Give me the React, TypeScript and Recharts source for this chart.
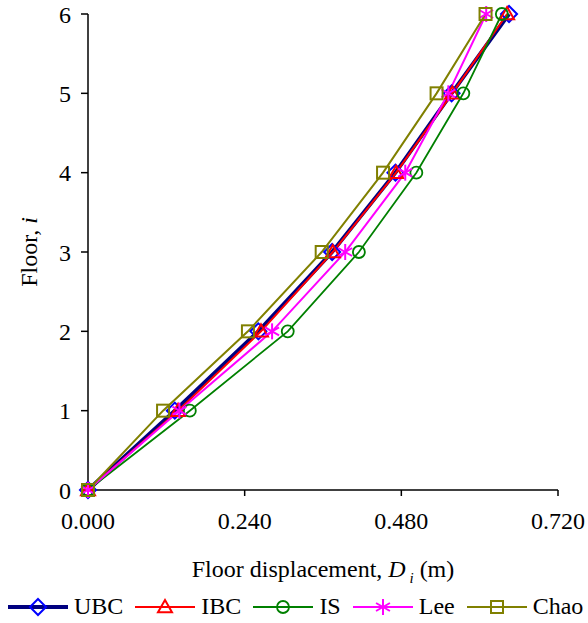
import React from "react";
import { LineChart, Line, XAxis, YAxis, Legend } from "recharts";

// Floor displacement (m) per floor
const floors = [0, 1, 2, 3, 4, 5, 6];
const ubc = [0, 0.133, 0.261, 0.374, 0.471, 0.557, 0.645];
const ibc = [0, 0.138, 0.265, 0.375, 0.472, 0.558, 0.642];
const isCode = [0, 0.156, 0.306, 0.415, 0.503, 0.575, 0.634];
const lee = [0, 0.14, 0.282, 0.394, 0.486, 0.552, 0.61];
const chao = [0, 0.115, 0.245, 0.358, 0.452, 0.534, 0.609];

const xTicks = [0, 0.24, 0.48, 0.72];
const yTicks = [0, 1, 2, 3, 4, 5, 6];

const FONT = '"Liberation Serif", serif';
const textStyle = { fontFamily: FONT, fontSize: 24 };

const chartData = floors.map((f, i) => ({
  floor: f,
  ubc: ubc[i],
  ibc: ibc[i],
  is: isCode[i],
  lee: lee[i],
  chao: chao[i],
}));

type MarkerKind = "diamond" | "triangle" | "circle" | "star" | "square";

function Marker({ kind, cx, cy, color }: { kind: MarkerKind; cx: number; cy: number; color: string }) {
  if (kind === "diamond") {
    const s = 8;
    return (
      <polygon
        points={`${cx},${cy - s} ${cx + s},${cy} ${cx},${cy + s} ${cx - s},${cy}`}
        fill="none"
        stroke={color}
        strokeWidth={2}
      />
    );
  }
  if (kind === "triangle") {
    const s = 7;
    return (
      <polygon
        points={`${cx},${cy - s} ${cx + s},${cy + s * 0.75} ${cx - s},${cy + s * 0.75}`}
        fill="none"
        stroke={color}
        strokeWidth={2}
      />
    );
  }
  if (kind === "circle") {
    return <circle cx={cx} cy={cy} r={6} fill="none" stroke={color} strokeWidth={1.8} />;
  }
  if (kind === "square") {
    return <rect x={cx - 6} y={cy - 6} width={12} height={12} fill="none" stroke={color} strokeWidth={2} />;
  }
  // asterisk
  const s = 8;
  const d = s * 0.87;
  return (
    <g stroke={color} strokeWidth={2}>
      <line x1={cx} y1={cy - s} x2={cx} y2={cy + s} />
      <line x1={cx - d} y1={cy - s / 2} x2={cx + d} y2={cy + s / 2} />
      <line x1={cx - d} y1={cy + s / 2} x2={cx + d} y2={cy - s / 2} />
    </g>
  );
}

const series = [
  { key: "ubc", name: "UBC", line: "#000080", width: 4, marker: "#0000FF", kind: "diamond" as MarkerKind },
  { key: "ibc", name: "IBC", line: "#FF0000", width: 2, marker: "#FF0000", kind: "triangle" as MarkerKind },
  { key: "is", name: "IS", line: "#008000", width: 1.8, marker: "#008000", kind: "circle" as MarkerKind },
  { key: "lee", name: "Lee", line: "#FF00FF", width: 2, marker: "#FF00FF", kind: "star" as MarkerKind },
  { key: "chao", name: "Chao", line: "#808000", width: 2, marker: "#808000", kind: "square" as MarkerKind },
];

function renderLegend() {
  return (
    <div style={{ display: "flex", alignItems: "center", paddingLeft: 8, color: "#000", ...textStyle }}>
      {series.map((s) => (
        <div key={s.key} style={{ display: "flex", alignItems: "center", marginRight: 12 }}>
          <svg width={60} height={24} style={{ marginRight: 6 }}>
            <line x1={0} y1={12} x2={60} y2={12} stroke={s.line} strokeWidth={s.width} />
            <Marker kind={s.kind} cx={30} cy={12} color={s.marker} />
          </svg>
          <span style={textStyle}>{s.name}</span>
        </div>
      ))}
    </div>
  );
}

function XTick(p: any) {
  return (
    <text x={p.x} y={p.y} dy="0.71em" textAnchor="middle" fill="#000" style={textStyle}>
      {Number(p.payload.value).toFixed(3)}
    </text>
  );
}

function YTick(p: any) {
  return (
    <text x={p.x} y={p.y} dy="0.355em" textAnchor="end" fill="#000" style={textStyle}>
      {p.payload.value}
    </text>
  );
}

export default function App() {
  return (
    <div style={{ position: "absolute", left: 0, top: 0, width: 588, height: 623, background: "#fff" }}>
      <LineChart
        width={588}
        height={623}
        data={chartData}
        layout="vertical"
        margin={{ top: 14, right: 30, left: 0, bottom: 33 }}
      >
        <XAxis
          type="number"
          dataKey="ubc"
          domain={[0, 0.72]}
          ticks={xTicks}
          height={100}
          tickSize={6}
          tickMargin={16}
          axisLine={{ stroke: "#000", strokeWidth: 1.5 }}
          tickLine={{ stroke: "#000", strokeWidth: 1.5 }}
          tick={<XTick />}
          label={{
            content: (props: any) => {
              const vb = props.viewBox;
              return (
                <text x={vb.x + vb.width / 2} y={vb.y + 87} textAnchor="middle" fill="#000" style={textStyle}>
                  Floor displacement,{" "}
                  <tspan fontStyle="italic">D</tspan>
                  <tspan fontStyle="italic" fontSize={15} dy={6}> i</tspan>
                  <tspan dy={-6}> (m)</tspan>
                </text>
              );
            },
          }}
        />
        <YAxis
          type="number"
          dataKey="floor"
          domain={[0, 6]}
          ticks={yTicks}
          reversed
          width={88}
          tickSize={7}
          tickMargin={10}
          axisLine={{ stroke: "#000", strokeWidth: 1.5 }}
          tickLine={{ stroke: "#000", strokeWidth: 1.5 }}
          tick={<YTick />}
          label={{
            content: (props: any) => {
              const vb = props.viewBox;
              const cx = 29;
              const cy = vb.y + vb.height / 2;
              return (
                <text
                  x={cx}
                  y={cy}
                  transform={`rotate(-90, ${cx}, ${cy})`}
                  textAnchor="middle"
                  dominantBaseline="central"
                  fill="#000"
                  style={textStyle}
                >
                  Floor, <tspan fontStyle="italic">i</tspan>
                </text>
              );
            },
          }}
        />
        <Legend
          verticalAlign="middle"
          layout="horizontal"
          content={renderLegend}
          wrapperStyle={{ top: 593, left: 0, width: 588, height: 28 }}
        />
        {series.map((s) => (
          <Line
            key={s.key}
            dataKey={s.key}
            name={s.name}
            type="linear"
            stroke={s.line}
            strokeWidth={s.width}
            isAnimationActive={false}
            activeDot={false}
            dot={(p: any) => (
              <Marker key={`${s.key}-${p.index}`} kind={s.kind} cx={p.cx} cy={p.cy} color={s.marker} />
            )}
          />
        ))}
      </LineChart>
    </div>
  );
}
